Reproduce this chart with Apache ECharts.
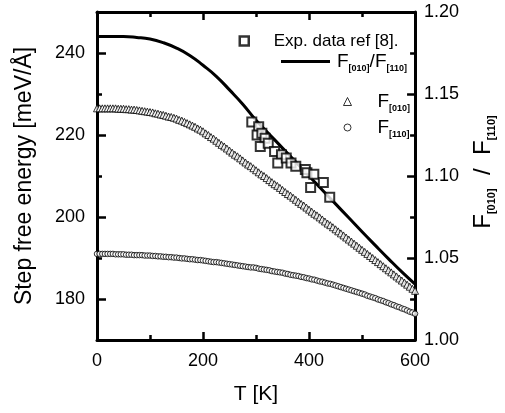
<!DOCTYPE html>
<html><head><meta charset="utf-8">
<script src="https://cdn.jsdelivr.net/npm/echarts@6/dist/echarts.min.js"></script>
<style>html,body{margin:0;padding:0;background:#fff}#c{width:505px;height:413px}</style>
</head><body><div id="c"></div><script>
// ---------- data ----------
const tempsFine = [0,5,10,15,20,25,30,35,40,45,50,55,60,65,70,75,80,85,90,95,100,105,110,115,120,125,130,135,140,145,150,155,160,165,170,175,180,185,190,195,200,205,210,215,220,225,230,235,240,245,250,255,260,265,270,275,280,285,290,295,300,305,310,315,320,325,330,335,340,345,350,355,360,365,370,375,380,385,390,395,400,405,410,415,420,425,430,435,440,445,450,455,460,465,470,475,480,485,490,495,500,505,510,515,520,525,530,535,540,545,550,555,560,565,570,575,580,585,590,595,600];
const f010 = [226.5,226.5,226.5,226.5,226.5,226.5,226.5,226.5,226.4,226.4,226.4,226.3,226.3,226.2,226.2,226.1,226.0,225.9,225.8,225.7,225.6,225.5,225.3,225.2,225.0,224.9,224.7,224.5,224.4,224.2,224.0,223.7,223.5,223.2,222.9,222.6,222.3,222.0,221.6,221.3,220.9,220.4,220.0,219.5,219.1,218.6,218.1,217.6,217.2,216.7,216.2,215.7,215.2,214.8,214.3,213.8,213.3,212.8,212.4,211.9,211.4,210.9,210.4,210.0,209.5,209.0,208.5,208.0,207.6,207.1,206.6,206.1,205.6,205.2,204.7,204.2,203.7,203.2,202.8,202.3,201.8,201.3,200.8,200.4,199.9,199.4,198.9,198.4,198.0,197.5,197.0,196.5,196.0,195.5,195.0,194.5,194.0,193.5,193.0,192.5,192.0,191.5,191.0,190.5,190.0,189.5,189.0,188.5,188.0,187.5,187.0,186.5,186.0,185.5,185.0,184.5,184.0,183.5,183.0,182.5,182.0];
const f110 = [191.0,191.0,191.0,191.0,191.0,191.0,191.0,190.9,190.9,190.9,190.9,190.8,190.8,190.8,190.7,190.7,190.7,190.7,190.6,190.6,190.6,190.5,190.5,190.4,190.4,190.3,190.3,190.2,190.2,190.1,190.1,190.0,189.9,189.9,189.8,189.7,189.7,189.6,189.5,189.5,189.4,189.3,189.2,189.1,189.0,189.0,188.9,188.8,188.7,188.6,188.5,188.4,188.3,188.2,188.1,188.0,187.9,187.8,187.7,187.7,187.6,187.4,187.3,187.2,187.1,187.0,186.8,186.7,186.6,186.5,186.4,186.2,186.1,185.9,185.8,185.7,185.6,185.4,185.3,185.1,185.0,184.8,184.7,184.5,184.3,184.2,184.0,183.8,183.7,183.5,183.3,183.1,182.9,182.7,182.5,182.3,182.1,181.9,181.7,181.5,181.3,181.1,180.8,180.6,180.4,180.2,179.9,179.7,179.5,179.2,179.0,178.7,178.5,178.2,178.0,177.7,177.5,177.2,176.9,176.7,176.4];
const ratioTemps = [0,25,50,75,100,125,150,175,200,225,250,275,300,325,350,375,400,425,450,475,500,525,550,575,600];
const ratioValues = [1.185,1.185,1.185,1.1845,1.1835,1.1813,1.178,1.1735,1.1675,1.1608,1.1525,1.1438,1.134,1.1255,1.117,1.1085,1.1,1.0915,1.083,1.0745,1.066,1.0577,1.0495,1.0415,1.034];
const expTemps = [292,305,302,311,317,308,323,335,348,341,357,366,375,393,396,409,403,427,439];
const expRatio = [1.133,1.130,1.125,1.126,1.123,1.118,1.120,1.115,1.113,1.108,1.111,1.108,1.106,1.104,1.102,1.101,1.093,1.096,1.087];
const leftTickLabels = [180,200,220,240];
const leftMinorTicks = [170,180,190,200,210,220,230,240,250];

// ---------- chart ----------
const FONT = '"Liberation Sans", Arial, Helvetica, sans-serif';
const chart = echarts.init(document.getElementById('c'), null, {renderer:'canvas'});
const axisLine = {show:true, onZero:false, lineStyle:{color:'#000', width:3}};
const tickStyle = {color:'#000', width:2.5};
const sub = {fontSize:9, fontWeight:'bold', lineHeight:10, padding:[14,0,0,0], color:'#000', fontFamily:FONT};
const big = {fontSize:19, color:'#000', fontFamily:FONT};

const option = {
  animation:false,
  backgroundColor:'#fff',
  textStyle:{fontFamily:FONT},
  grid:{left:97, right:81, top:12, bottom:73},
  xAxis:[
    {type:'value', position:'bottom', min:0, max:600, interval:200,
     axisLine, axisTick:{inside:true, length:8, lineStyle:tickStyle},
     minorTick:{show:true, splitNumber:2, length:5, lineStyle:tickStyle},
     splitLine:{show:false}, minorSplitLine:{show:false},
     axisLabel:{fontSize:18, color:'#000', margin:12, fontFamily:FONT},
     name:'T [K]', nameLocation:'middle', nameGap:44,
     nameTextStyle:{fontSize:21, color:'#000', fontFamily:FONT}},
    {type:'value', position:'top', min:0, max:600, interval:200,
     axisLine, axisTick:{inside:true, length:8, lineStyle:tickStyle},
     minorTick:{show:true, splitNumber:2, length:5, lineStyle:tickStyle},
     splitLine:{show:false}, axisLabel:{show:false}}
  ],
  yAxis:[
    {type:'value', position:'left', min:170, max:250,
     axisLine, axisTick:{inside:true, length:9, customValues:leftTickLabels, lineStyle:tickStyle},
     axisLabel:{customValues:leftTickLabels, fontSize:18, color:'#000', margin:12, fontFamily:FONT},
     splitLine:{show:false},
     name:'Step free energy [meV/Å]', nameLocation:'middle', nameGap:61,
     nameTextStyle:{fontSize:23, color:'#000', fontFamily:FONT}},
    {type:'value', position:'right', min:1.0, max:1.2, interval:0.05,
     axisLine, axisTick:{inside:true, length:8, lineStyle:tickStyle},
     minorTick:{show:true, splitNumber:2, length:5, lineStyle:tickStyle},
     splitLine:{show:false}, minorSplitLine:{show:false},
     axisLabel:{formatter:v=>v.toFixed(2), fontSize:18, color:'#000', margin:9, fontFamily:FONT},
     name:'{b|F}{s|[010]}{b|  /  F}{s|[110]}', nameLocation:'middle', nameGap:48, nameRotate:90,
     nameTextStyle:{padding:[0,0,0,8], rich:{b:{fontSize:24, color:'#000', fontFamily:FONT}, s:{fontSize:11, fontWeight:'bold', lineHeight:12, padding:[16,0,0,0], color:'#000', fontFamily:FONT}}}},
    {type:'value', position:'left', min:170, max:250,
     axisLine:{show:false}, axisTick:{inside:true, length:5, customValues:leftMinorTicks, lineStyle:tickStyle},
     axisLabel:{show:false}, splitLine:{show:false}}
  ],
  legend:[
    {data:['Exp. data ref [8].'], selectedMode:false, padding:0, left:238.5, top:32.5,
     itemWidth:9, itemHeight:9, icon:'rect',
     itemStyle:{color:'#fff', borderColor:'#000', borderWidth:2.5},
     textStyle:{fontSize:17, color:'#000', padding:[0,0,0,20], fontFamily:FONT}},
    {data:['ratio'], selectedMode:false, padding:0, left:281, top:50,
     itemWidth:49, itemHeight:3, icon:'rect',
     itemStyle:{color:'#000', borderWidth:0},
     formatter:()=>'{b|F}{s|[010]}{b|/F}{s|[110]}',
     textStyle:{color:'#000', padding:[0,0,0,2], rich:{b:big, s:sub}}},
    {data:['F010'], selectedMode:false, padding:0, left:343, top:90,
     itemWidth:8, itemHeight:8, icon:'triangle',
     itemStyle:{color:'#fff', borderColor:'#000', borderWidth:1},
     formatter:()=>'{b|F}{s|[010]}',
     textStyle:{color:'#000', padding:[0,0,0,21], rich:{b:big, s:sub}}},
    {data:['F110'], selectedMode:false, padding:0, left:343.5, top:116,
     itemWidth:7, itemHeight:7, icon:'circle',
     itemStyle:{color:'#fff', borderColor:'#000', borderWidth:1},
     formatter:()=>'{b|F}{s|[110]}',
     textStyle:{color:'#000', padding:[0,0,0,21.5], rich:{b:big, s:sub}}}
  ],
  series:[
    {name:'F010', type:'scatter', xAxisIndex:0, yAxisIndex:0, z:2,
     data:tempsFine.map((t,i)=>[t,f010[i]]),
     symbol:'triangle', symbolSize:7,
     itemStyle:{color:'#fff', borderColor:'#000', borderWidth:1}},
    {name:'F110', type:'scatter', xAxisIndex:0, yAxisIndex:0, z:2,
     data:tempsFine.map((t,i)=>[t,f110[i]]),
     symbol:'circle', symbolSize:5.5,
     itemStyle:{color:'#fff', borderColor:'#000', borderWidth:1}},
    {name:'ratio', type:'line', xAxisIndex:0, yAxisIndex:1, z:3,
     data:ratioTemps.map((t,i)=>[t,ratioValues[i]]),
     symbol:'none', smooth:true,
     lineStyle:{color:'#000', width:3}, itemStyle:{color:'#000'}},
    {name:'Exp. data ref [8].', type:'scatter', xAxisIndex:0, yAxisIndex:1, z:4,
     data:expTemps.map((t,i)=>[t,expRatio[i]]),
     symbol:'rect', symbolSize:9,
     itemStyle:{color:'#fff', borderColor:'#000', borderWidth:2}}
  ]
};
chart.setOption(option);
</script></body></html>
